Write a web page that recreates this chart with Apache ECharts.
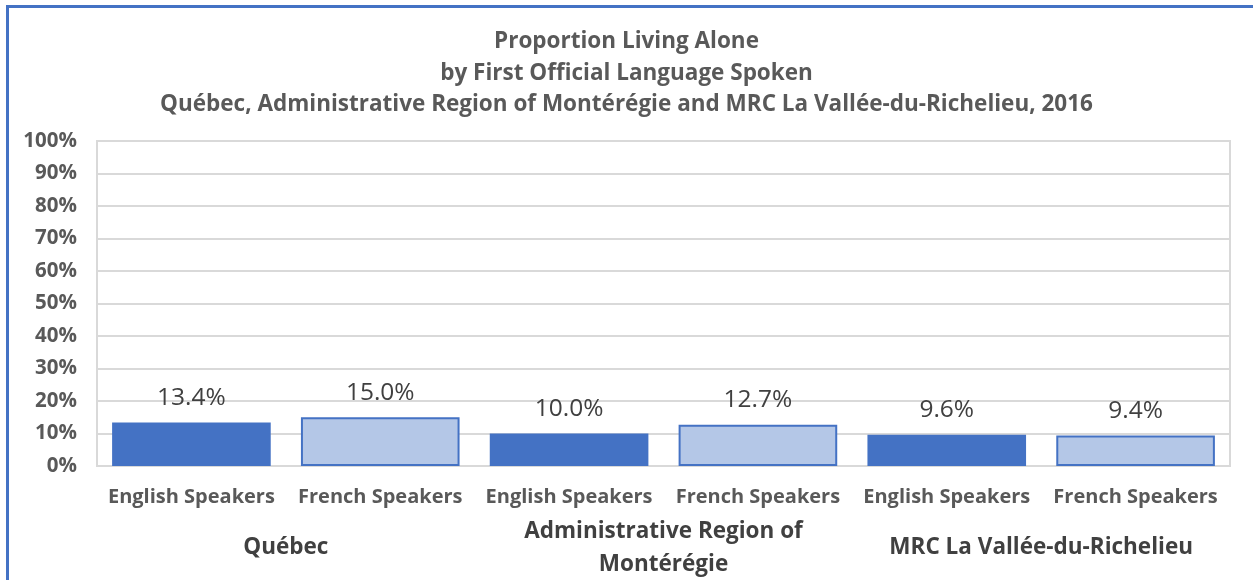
<!DOCTYPE html>
<html lang="en">
<head>
    <meta charset="UTF-8">
    <title>Proportion Living Alone</title>
    <script type="text/javascript" src="https://cdn.jsdelivr.net/npm/echarts@6/dist/echarts.min.js"></script>
    <style>
        html, body { margin: 0; padding: 0; background: #fff; }
        #frame { position: absolute; left: 6px; top: 5px; right: 0; bottom: 0;
                 border-left: 3px solid #4472C4; border-top: 3px solid #4472C4; }
        #main { position: absolute; left: 0; top: 0; width: 1253px; height: 580px; }
    </style>
</head>
<body>
    <div id="frame"></div>
    <div id="main"></div>
    <script type="text/javascript">
        // 数据
        const titleLines = [
            'Proportion Living Alone',
            'by First Official Language Spoken',
            'Québec, Administrative Region of Montérégie and MRC La Vallée-du-Richelieu, 2016'
        ];
        const categories = ['English Speakers', 'French Speakers', 'English Speakers',
            'French Speakers', 'English Speakers', 'French Speakers'];
        const groups = ['Québec', 'Administrative Region of\nMontérégie', 'MRC La Vallée-du-Richelieu'];
        const values = [13.4, 15.0, 10.0, 12.7, 9.6, 9.4];

        const font = '"Open Sans", "Noto Sans", sans-serif';

        var myChart = echarts.init(document.getElementById('main'), null, {renderer: 'canvas'});

        // 英语深蓝，法语浅蓝带边框
        const barData = values.map(function (v, i) {
            const english = categories[i].indexOf('English') === 0;
            return {
                value: v,
                itemStyle: english
                    ? {color: '#4472C4', borderColor: '#4472C4', borderWidth: 0}
                    : {color: '#B4C7E7', borderColor: '#4472C4', borderWidth: 2}
            };
        });

        var option = {
            animation: false,
            title: {
                text: titleLines.join('\n'),
                left: 'center',
                top: 21,
                textStyle: {
                    fontFamily: font, fontSize: 22.5, fontWeight: 'bold',
                    color: '#595959', lineHeight: 31.5
                }
            },
            grid: {
                left: 97, right: 23, top: 141, bottom: 114,
                outerBoundsMode: 'none',
                show: true, borderColor: '#D9D9D9', borderWidth: 2
            },
            xAxis: [
                {
                    type: 'category',
                    data: categories,
                    axisLine: {lineStyle: {color: '#D9D9D9', width: 2}},
                    axisTick: {show: false},
                    axisLabel: {
                        interval: 0, margin: 21,
                        fontFamily: font, fontSize: 20, fontWeight: 'bold', color: '#595959'
                    }
                },
                {
                    type: 'category',
                    position: 'bottom',
                    data: groups,
                    axisLine: {show: false},
                    axisTick: {show: false},
                    splitLine: {show: false},
                    axisLabel: {
                        interval: 0, margin: 82, verticalAlign: 'middle',
                        lineHeight: 33,
                        fontFamily: font, fontSize: 22.5, fontWeight: 'bold', color: '#404040'
                    }
                }
            ],
            yAxis: {
                type: 'value',
                min: 0, max: 100, interval: 10,
                axisLine: {show: true, lineStyle: {color: '#D9D9D9', width: 2}},
                splitLine: {lineStyle: {color: '#D9D9D9', width: 2}},
                axisLabel: {
                    formatter: '{value}%', margin: 20,
                    fontFamily: font, fontSize: 20.5, fontWeight: 'bold', color: '#595959'
                }
            },
            series: [
                {
                    type: 'bar',
                    xAxisIndex: 0,
                    data: barData,
                    barCategoryGap: '16%',
                    label: {
                        show: true, position: 'top', distance: 12,
                        formatter: function (p) { return p.value.toFixed(1) + '%'; },
                        fontFamily: font, fontSize: 24.5, color: '#404040'
                    }
                }
            ]
        };

        myChart.setOption(option);
    </script>
</body>
</html>
